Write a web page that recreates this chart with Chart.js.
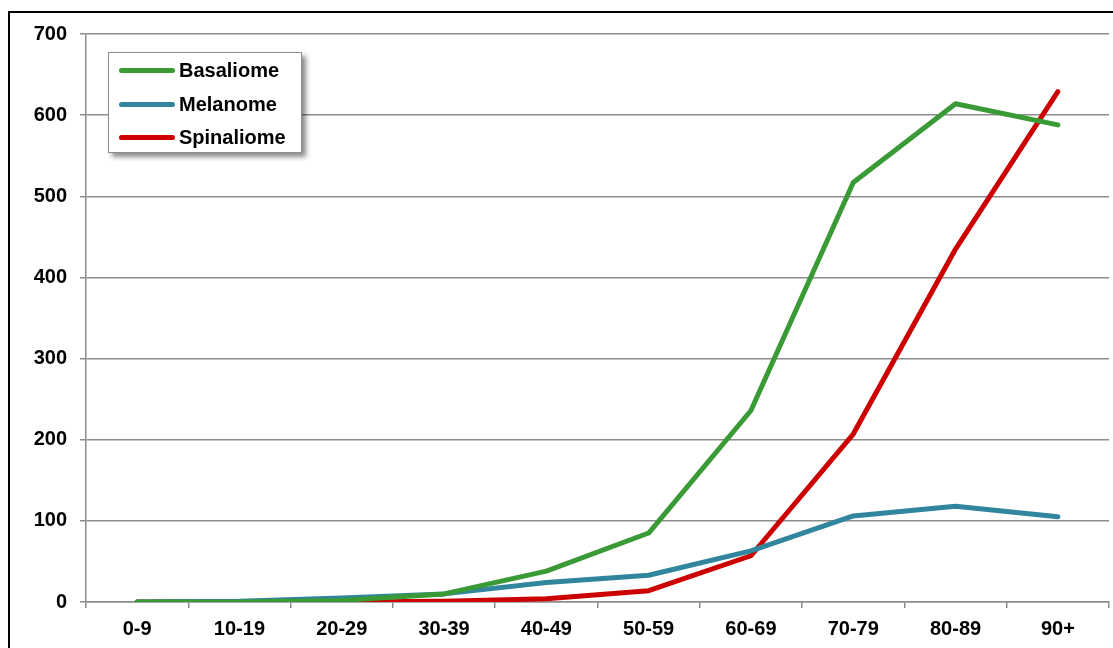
<!DOCTYPE html>
<html>
<head>
<meta charset="utf-8">
<script src="https://cdn.jsdelivr.net/npm/chart.js@4.4.0/dist/chart.umd.min.js"></script>
<style>
  html, body { margin: 0; padding: 0; background: #fff; overflow: hidden; }
  #wrap { position: relative; width: 1113px; height: 648px; }
  #frame { position: absolute; left: 8px; top: 11px; width: 1200px; height: 700px; border-left: 2px solid #000; border-top: 2px solid #000; pointer-events: none; }
  #chart { position: absolute; left: 0; top: 0; }
  #legend { position: absolute; left: 108px; top: 52px; width: 192px; height: 99px; background: #fff;
    border: 1px solid #8c8c8c; box-shadow: 4px 4px 5px rgba(0,0,0,0.45);
    font: bold 20px "Liberation Sans", Arial, sans-serif; }
  #legend div { position: absolute; left: 10px; height: 22px; line-height: 22px; white-space: nowrap; }
  #legend span.ln { display: inline-block; width: 56px; height: 5px; border-radius: 3px; vertical-align: middle; margin-right: 4px; position: relative; top: -1px; }
</style>
</head>
<body>
<div id="wrap">
  <canvas id="chart" width="1113" height="648"></canvas>
  <div id="frame"></div>
  <div id="legend"></div>
</div>
<script>
// ==== data ====
const ageGroups = ["0-9", "10-19", "20-29", "30-39", "40-49", "50-59", "60-69", "70-79", "80-89", "90+"];
const basaliome = [0, 0, 2, 10, 38, 85, 236, 517, 614, 588];
const melanome = [0, 1, 5, 10, 24, 33, 63, 106, 118, 105];
const spinaliome = [0, 0, 0, 1, 4, 14, 57, 207, 435, 629];
const yTicks = [0, 100, 200, 300, 400, 500, 600, 700];

const COLORS = { Basaliome: "#3a9a36", Melanome: "#31869e", Spinaliome: "#cc0000" };
const FONT = { family: '"Liberation Sans", Arial, sans-serif', size: 20, weight: "bold" };
const GRID = "#8c8c8c";

const series = [
  { label: "Basaliome", data: basaliome },
  { label: "Melanome", data: melanome },
  { label: "Spinaliome", data: spinaliome }
];

// html legend (Excel style box with shadow)
const leg = document.getElementById("legend");
series.forEach((s, i) => {
  const row = document.createElement("div");
  row.style.top = (6 + i * 33.5) + "px";
  row.innerHTML = `<span class="ln" style="background:${COLORS[s.label]}"></span>${s.label}`;
  leg.appendChild(row);
});

new Chart(document.getElementById("chart"), {
  type: "line",
  data: {
    labels: ageGroups,
    datasets: series.map(s => ({
      label: s.label,
      data: s.data,
      borderColor: COLORS[s.label],
      backgroundColor: COLORS[s.label],
      borderWidth: 5,
      borderCapStyle: "round",
      borderJoinStyle: "round",
      pointRadius: 0,
      tension: 0
    }))
  },
  options: {
    responsive: false,
    animation: false,
    layout: { padding: { left: 0, top: 34, right: 4, bottom: 0 } },
    plugins: { legend: { display: false }, tooltip: { enabled: false } },
    scales: {
      x: {
        offset: true,
        grid: { offset: true, drawOnChartArea: false, drawTicks: true, tickLength: 6, color: GRID, lineWidth: 1.5 },
        border: { color: GRID, width: 1.5 },
        ticks: { color: "#000", font: FONT, padding: 9, maxRotation: 0 },
        afterFit: s => { s.height = 46; }
      },
      y: {
        min: 0, max: 700,
        afterBuildTicks: s => { s.ticks = yTicks.map(v => ({ value: v })); },
        grid: { color: GRID, lineWidth: 1.5, tickLength: 6 },
        border: { color: GRID, width: 1.5 },
        ticks: { color: "#000", font: FONT, padding: 13 },
        afterFit: s => { s.width = 86; }
      }
    }
  }
});
</script>
</body>
</html>
